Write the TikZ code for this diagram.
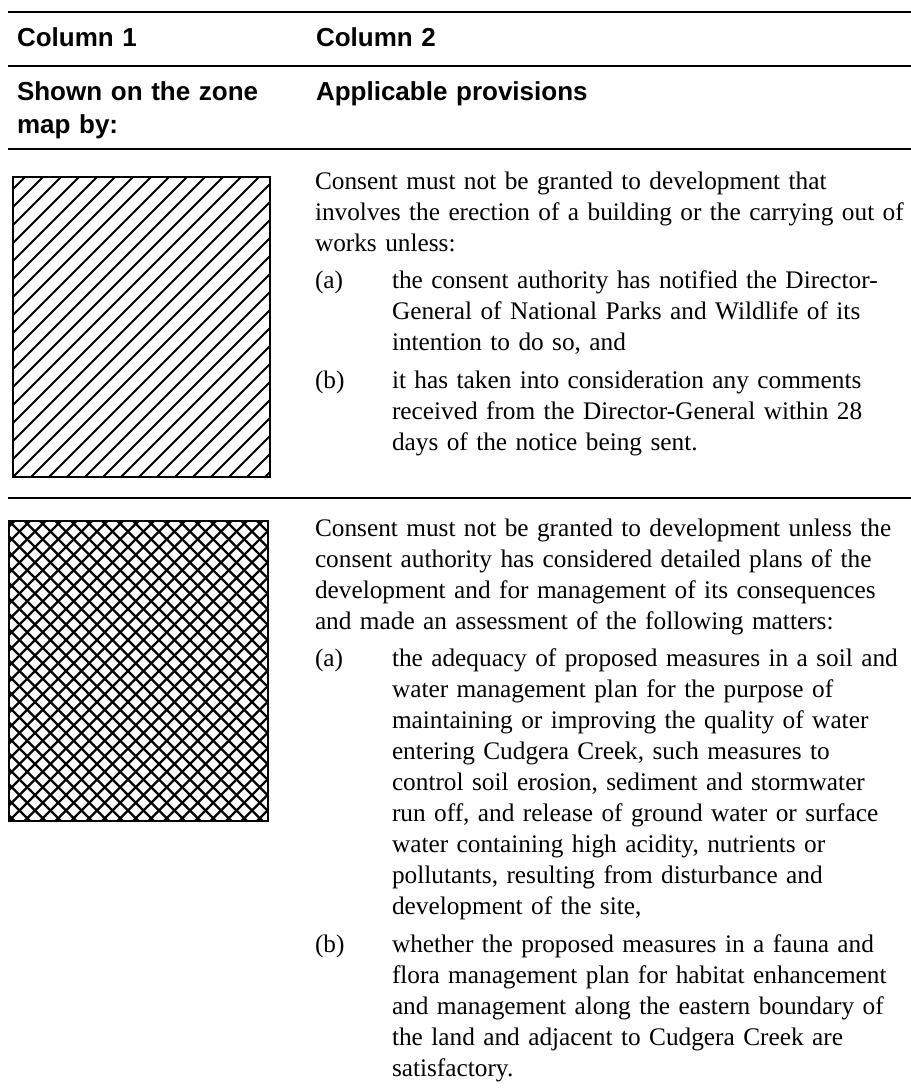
\documentclass[tikz,border=0pt]{standalone}
\usepackage{fontspec}
\setmainfont{Liberation Serif}
\setsansfont{Liberation Sans}
\begin{document}
\begin{tikzpicture}[x=1pt,y=-1pt,
			every node/.style={inner sep=0pt,outer sep=0pt,anchor=base west},
			head/.style={font=\sffamily\bfseries\fontsize{26}{33}\selectfont,text width=280pt,align=left},
			body/.style={font=\fontsize{25.3}{31}\selectfont,text width=700pt,align=left},
			rule/.style={line width=2pt},
			frame/.style={line width=1.8pt},
			hatch/.style={line width=1.8pt},
			cross/.style={line width=2.3pt},
			declare function={
				colA = 17;
				colB = 316;
				colTxt = 315;
				colItem = 392;
				ruleL = 8;
				ruleR = 911;
				lineH = 31;
				gapH = 6.5;
				rowOne = 189;
				rowTwo = 536;
			}
			]
			\useasboundingbox (0,0) rectangle (911,1088);
			\foreach \y in {12,66,149,498}{
				\draw[rule] (ruleL,\y) -- (ruleR,\y);
			}
			\node[head] (colOne) at (colA,46) {Column 1};
			\node[head] (colTwo) at (colB,46) {Column 2};
			\node[head] (shownBy) at (colA,100) {Shown on the zone\\map by:};
			\node[head] (provisions) at (colB,100) {Applicable provisions};
			% diagonal hatching
			\begin{scope}
				\clip (13,177) rectangle (270,477);
				\foreach \k in {-17,...,15}{
					\draw[hatch] (13+\k*18,477) -- ++(320,-320);
				}
			\end{scope}
			\draw[frame] (13,177) rectangle (270,477);
			% cross hatching
			\begin{scope}
				\clip (9,521) rectangle (268,821);
				\foreach \k in {-20,...,17}{
					\draw[cross] (9+\k*15.5,821) -- ++(320,-320);
					\draw[cross] (9+\k*15.5,521) -- ++(320,320);
				}
			\end{scope}
			\draw[frame] (9,521) rectangle (268,821);
			% first provision
			\node[body] (introOne) at (colTxt,rowOne) {Consent must not be granted to development that\\involves the erection of a building or the carrying out of\\works unless:};
			\node[body] (labOneA) at (colTxt,rowOne+3*lineH+gapH) {(a)};
			\node[body] (itemOneA) at (colItem,rowOne+3*lineH+gapH) {the consent authority has notified the Director-\\General of National Parks and Wildlife of its\\intention to do so, and};
			\node[body] (labOneB) at (colTxt,rowOne+6*lineH+2*gapH) {(b)};
			\node[body] (itemOneB) at (colItem,rowOne+6*lineH+2*gapH) {it has taken into consideration any comments\\received from the Director-General within 28\\days of the notice being sent.};
			% second provision
			\node[body] (introTwo) at (colTxt,rowTwo) {Consent must not be granted to development unless the\\consent authority has considered detailed plans of the\\development and for management of its consequences\\and made an assessment of the following matters:};
			\node[body] (labTwoA) at (colTxt,rowTwo+4*lineH+gapH) {(a)};
			\node[body] (itemTwoA) at (colItem,rowTwo+4*lineH+gapH) {the adequacy of proposed measures in a soil and\\water management plan for the purpose of\\maintaining or improving the quality of water\\entering Cudgera Creek, such measures to\\control soil erosion, sediment and stormwater\\run off, and release of ground water or surface\\water containing high acidity, nutrients or\\pollutants, resulting from disturbance and\\development of the site,};
			\node[body] (labTwoB) at (colTxt,rowTwo+13*lineH+2*gapH) {(b)};
			\node[body] (itemTwoB) at (colItem,rowTwo+13*lineH+2*gapH) {whether the proposed measures in a fauna and\\flora management plan for habitat enhancement\\and management along the eastern boundary of\\the land and adjacent to Cudgera Creek are\\satisfactory.};
		\end{tikzpicture}
\end{document}
